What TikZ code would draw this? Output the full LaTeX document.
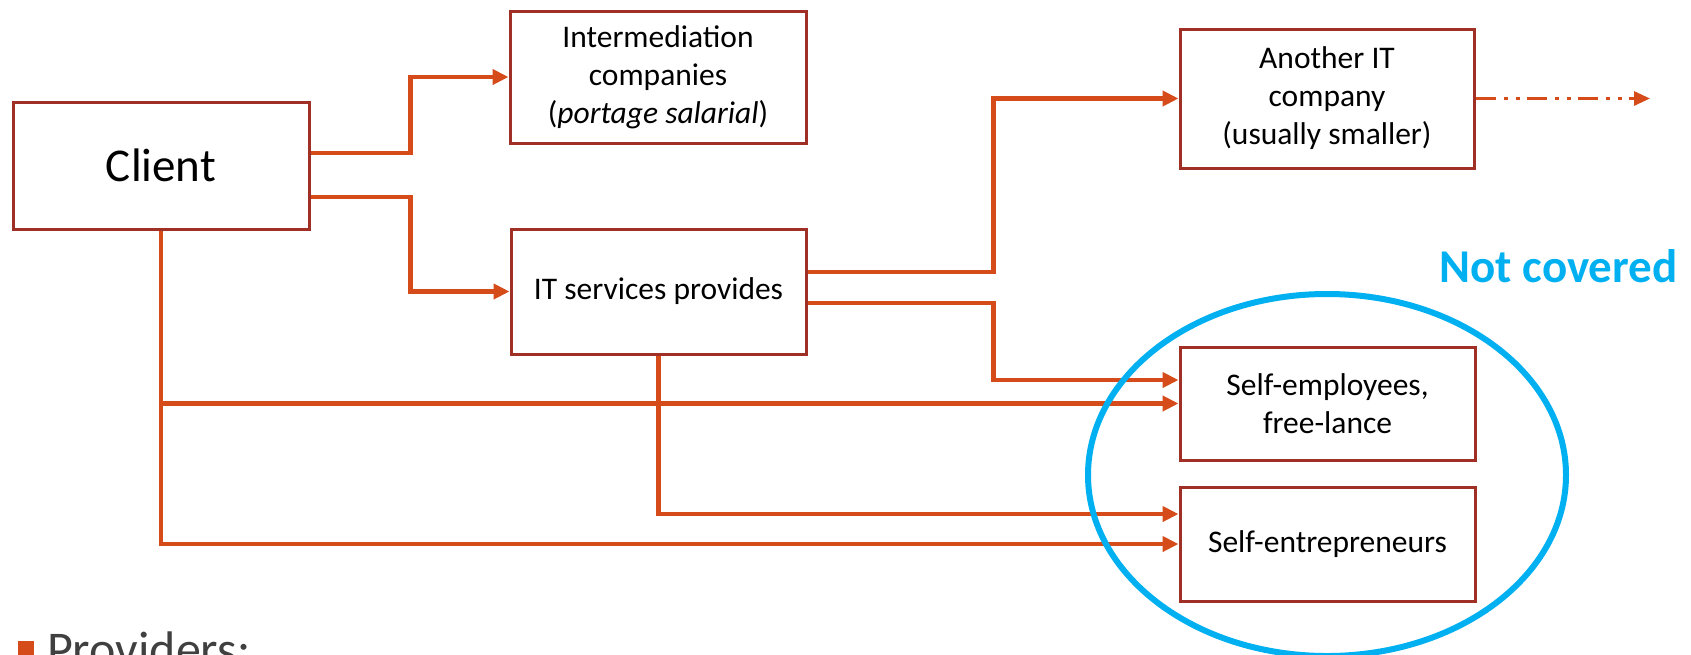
\documentclass[tikz,border=0pt]{standalone}
\usepackage{fontspec}
\setmainfont{Carlito}
\usepackage{tikz}
\usetikzlibrary{arrows.meta}
\definecolor{arrowred}{RGB}{213,75,25}
\definecolor{boxred}{RGB}{160,48,38}
\definecolor{skyblue}{RGB}{0,176,240}
\definecolor{textgray}{RGB}{64,64,64}
\begin{document}
\begin{tikzpicture}[x=0.5pt,y=-0.5pt,font=\fontsize{15.75}{19}\selectfont]
% Box and connector styles
\tikzstyle{box}=[draw=boxred,line width=1.5pt,fill=white,align=center,inner sep=0pt];
\tikzstyle{conn}=[draw=arrowred,line width=2.25pt,-{Triangle[length=8pt,width=7.5pt]}];
\tikzstyle{dotline}=[draw=arrowred,line width=1.5pt,dash pattern=on 10pt off 4pt on 2pt off 4pt on 2pt off 3.5pt,-{Triangle[length=8pt,width=7pt]}];
\useasboundingbox (0,0) rectangle (1691,654);
% The boxes
\node(client)[box,minimum width=148pt,minimum height=63.5pt,font=\fontsize{23.5}{28}\selectfont]at(161,165.5){Client};
\node(interm)[box,minimum width=148pt,minimum height=66pt]at(658,77){Intermediation\\companies\\(\textit{portage salarial})};
\node(it)[box,minimum width=147.5pt,minimum height=62.5pt]at(658.5,291.5){IT services provides};
\node(another)[box,minimum width=147pt,minimum height=69.5pt]at(1327,98.5){Another IT\\company\\(usually smaller)};
\node(selfemp)[box,minimum width=147.5pt,minimum height=56.5pt]at(1327.5,403.5){Self-employees,\\free-lance};
\node(selfent)[box,minimum width=147.5pt,minimum height=57pt]at(1327.5,544){Self-entrepreneurs};
\coordinate(beyond)at(1650,98.5);
% The connectors
\draw[conn]([yshift=6.25pt]client.east)--++(100,0)|-(interm);
\draw[conn]([yshift=-15.75pt]client.east)--++(100,0)|-(it);
\draw[conn](client.south)|-(selfemp);
\draw[conn](client.south)|-(selfent);
\draw[conn]([yshift=9.75pt]it.east)--++(186,0)|-(another);
\draw[conn]([yshift=-5.75pt]it.east)--++(186,0)|-([yshift=11.75pt]selfemp.west);
\draw[conn](it.south)|-([yshift=15pt]selfent.west);
\draw[dotline](another.east)--(beyond);
% Not covered group
\draw[skyblue,line width=3pt](1327,475)ellipse[x radius=119.5pt,y radius=90.5pt];
\node(nc)[anchor=base,text=skyblue,font=\bfseries\fontsize{23.5}{28}\selectfont]at(1558.5,282){Not covered};
% Bullet line at the bottom
\node(bullet)[fill=arrowred,minimum size=8pt,inner sep=0pt]at(26,649){};
\node(prov)[anchor=base west,text=textgray,font=\fontsize{25}{30}\selectfont]at(40,666){Providers:};
\end{tikzpicture}
\end{document}
